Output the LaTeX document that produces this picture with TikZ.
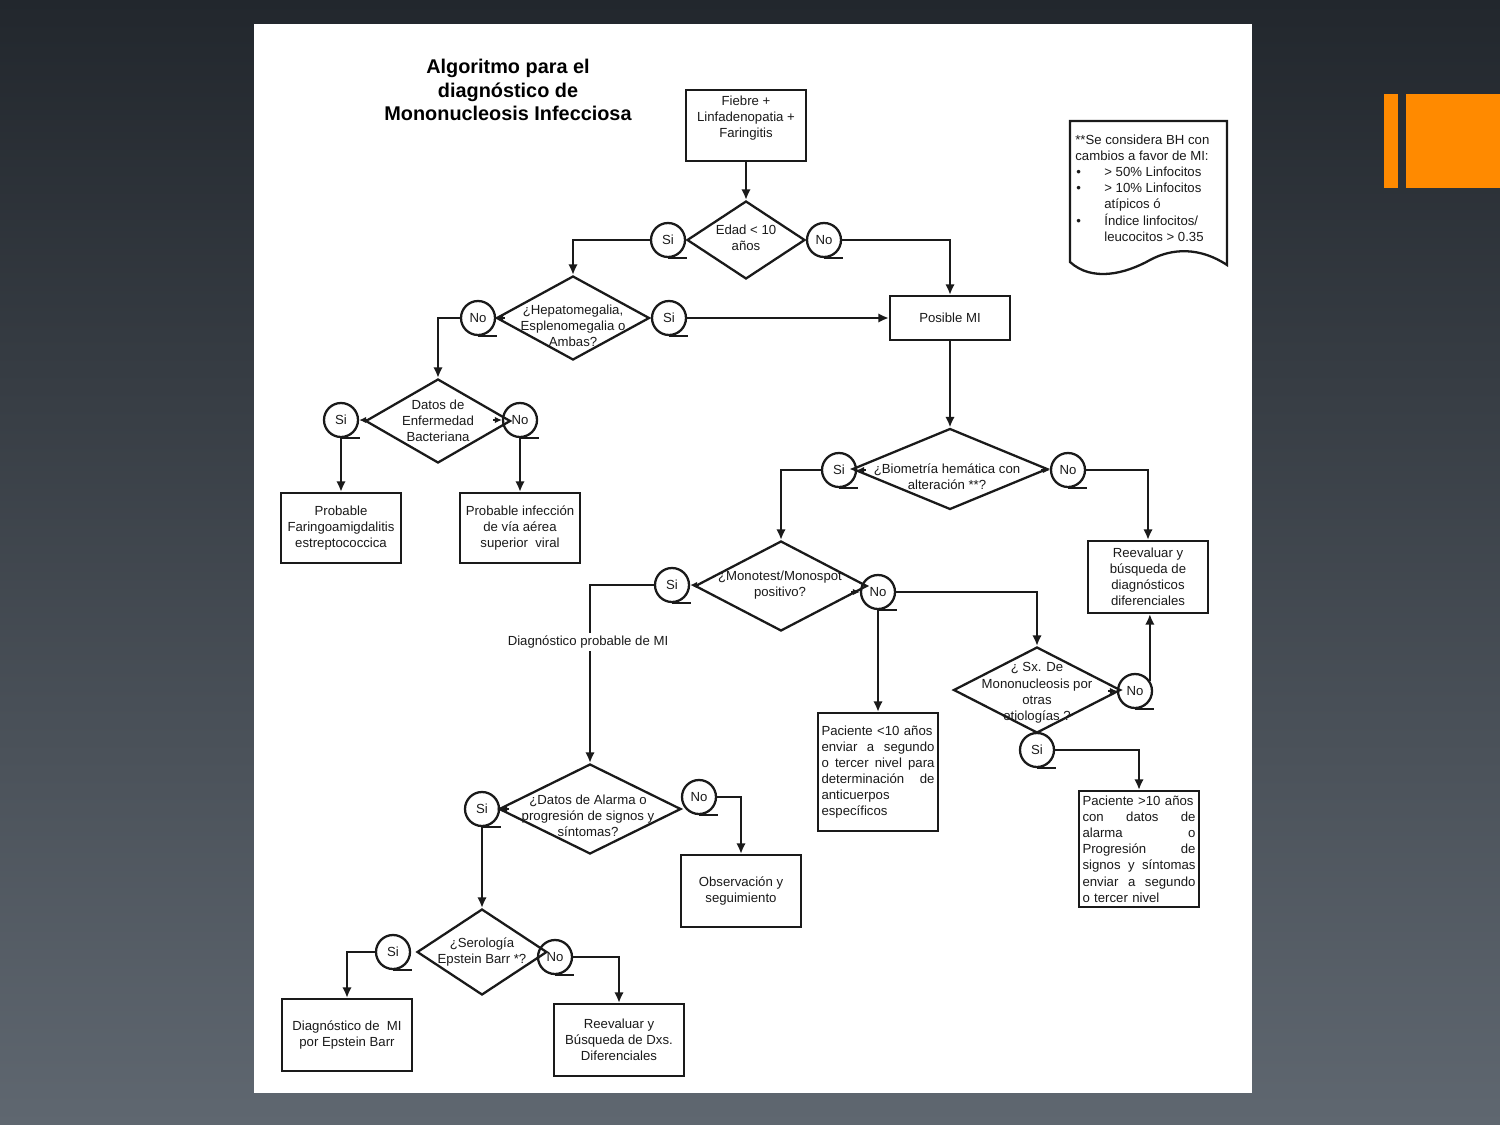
\documentclass[tikz,border=0pt]{standalone}
\usepackage{fontspec}
\setmainfont{Liberation Sans}
\usetikzlibrary{shapes.geometric,arrows.meta,shadows}
\definecolor{bgtop}{HTML}{22272D}
\definecolor{bgmid}{HTML}{30363D}
\definecolor{bgbot}{HTML}{5F6770}
\definecolor{accent}{HTML}{FF8A00}
\definecolor{ink}{HTML}{1A1A1A}
\begin{document}
\begin{tikzpicture}[x=0.02cm,y=-0.02cm,
  every node/.style={font=\fontsize{7.5}{9.2}\selectfont, text=ink},
  ln/.style={line width=1.3pt, draw=ink},
  arr/.style={line width=1.3pt, draw=ink, -{Latex[length=2.1mm,width=1.9mm]}},
  tipa/.style={line width=0.8pt, draw=ink, -{Latex[length=1.4mm,width=1.3mm]}},
  box/.style 2 args={rectangle, draw=ink, line width=1.3pt, fill=white, minimum width=#1, minimum height=#2, inner sep=0pt, align=center, drop shadow={shadow xshift=0.8pt, shadow yshift=-0.8pt, fill=black!40, opacity=1}},
  jbox/.style 2 args={box={#1}{#2}, text width=2.26cm, align=left},
  dia/.style 2 args={diamond, draw=ink, line width=1.3pt, minimum width=#1, minimum height=#2, inner sep=0pt},
  circ/.style={circle, draw=ink, line width=1.3pt, minimum size=0.68cm, inner sep=0pt},
  txt/.style={align=center, inner sep=0pt},
  nt/.style={anchor=base west, inner sep=0pt},
]
\useasboundingbox (0,0) rectangle (1500,1125);
\shade[top color=bgtop, middle color=bgmid, bottom color=bgbot] (0,0) rectangle (1500,1125);
\fill[white] (254,24) rectangle (1252,1093);
\fill[accent] (1384,94) rectangle (1398,188);
\fill[accent] (1406,94) rectangle (1500,188);

% title
\node[font=\bfseries\fontsize{11.3}{13.6}\selectfont, align=center, text=black] (title) at (508,90) {Algoritmo para el\\diagnóstico de\\Mononucleosis Infecciosa};

% note
\path[draw=ink, line width=1.3pt, fill=white] (1070,121) -- (1227,121) -- (1227,265)
  .. controls (1200,247) and (1172,248) .. (1150,260)
  .. controls (1125,274) and (1092,282) .. (1070,262) -- cycle;
\node[nt] (nl1) at (1075,145) {**Se considera BH con};
\node[nt] (nl2) at (1075,161) {cambios a favor de MI:};
\node[nt] (nb1) at (1076,177) {•};
\node[nt] (nl3) at (1104,177) {> 50\% Linfocitos};
\node[nt] (nb2) at (1076,193) {•};
\node[nt] (nl4) at (1104,193) {> 10\% Linfocitos};
\node[nt] (nl5) at (1104,209) {atípicos ó};
\node[nt] (nb3) at (1076,225) {•};
\node[nt] (nl6) at (1104,225) {Índice linfocitos/};
\node[nt] (nl7) at (1104,241) {leucocitos > 0.35};

% nodes
\node[box={2.40cm}{1.42cm}] (fiebre) at (746,125.5) {};
\node[txt] (fiebret) at (746,118) {Fiebre +\\Linfadenopatia +\\Faringitis};

\node[dia={2.36cm}{1.56cm}] (edad) at (746,240) {};
\node[txt] (edadt) at (746,238) {Edad < 10\\años};
\node[circ] (si1) at (668,240) {Si};
\node[circ] (no1) at (824,240) {No};

\node[box={2.40cm}{0.88cm}] (posible) at (950,318) {Posible MI};

\node[dia={3.06cm}{1.68cm}] (hep) at (573,318) {};
\node[txt] (hept) at (573,326) {¿Hepatomegalia,\\Esplenomegalia o\\Ambas?};
\node[circ] (no2) at (478,318) {No};
\node[circ] (si2) at (669,318) {Si};

\node[dia={2.90cm}{1.68cm}] (bact) at (438,421) {};
\node[txt] (bactt) at (438,421) {Datos de\\Enfermedad\\Bacteriana};
\node[circ] (si3) at (341,420) {Si};
\node[circ] (no3) at (520,420) {No};
\node[box={2.40cm}{1.40cm}] (prob1) at (341,528) {Probable\\Faringoamigdalitis\\estreptococcica};
\node[box={2.40cm}{1.40cm}] (prob2) at (520,528) {Probable infección\\de vía aérea\\superior~ viral};

\node[dia={3.90cm}{1.62cm}] (bio) at (950,469) {};
\node[txt] (biot) at (947,477) {¿Biometría hemática con\\alteración **?};
\node[circ] (si4) at (839,470) {Si};
\node[circ] (no4) at (1068,470) {No};
\node[box={2.40cm}{1.44cm}] (reev1) at (1148,577) {Reevaluar y\\búsqueda de\\diagnósticos\\diferenciales};

\node[dia={3.44cm}{1.80cm}] (mono) at (781,586) {};
\node[txt] (monot) at (780,585) {¿Monotest/Monospot\\positivo?};
\node[circ] (si5) at (672,585) {Si};
\node[circ] (no5) at (878,592) {No};
\node[jbox={2.40cm}{2.36cm}] (pac1) at (878,772) {Paciente <10 años\\enviar\hfill a\hfill segundo\\o\hfill tercer\hfill nivel\hfill para\\determinación\hfill de\\anticuerpos\\específicos};

\node[dia={3.34cm}{1.72cm}] (sx) at (1037,690) {};
\node[txt] (sxt) at (1037,693) {¿ Sx. De\\Mononucleosis por\\otras\\etiologías ?};
\node[circ] (no6) at (1135,691) {No};
\node[circ] (si6) at (1037,750) {Si};
\node[jbox={2.40cm}{2.32cm}] (pac2) at (1139,849) {Paciente >10 años\\con\hfill datos\hfill de\\alarma\hfill o\\Progresión\hfill de\\signos\hfill y\hfill síntomas\\enviar\hfill a\hfill segundo\\o tercer nivel};

\node[dia={3.64cm}{1.80cm}] (alarma) at (590,809) {};
\node[txt] (alarmat) at (588,816) {¿Datos de Alarma o\\progresión de signos y\\síntomas?};
\node[circ] (si7) at (482,809) {Si};
\node[circ] (no7) at (699,797) {No};
\node[box={2.40cm}{1.44cm}] (obs) at (741,891) {Observación y\\seguimiento};

\node[dia={2.60cm}{1.72cm}] (sero) at (482,952) {};
\node[txt] (serot) at (482,952) {¿Serología\\Epstein Barr *?};
\node[circ] (si8) at (393,952) {Si};
\node[circ] (no8) at (555,957) {No};
\node[box={2.60cm}{1.44cm}] (dx1) at (347,1035) {Diagnóstico de~ MI\\por Epstein Barr};
\node[box={2.60cm}{1.44cm}] (reev2) at (619,1040) {Reevaluar y\\Búsqueda de Dxs.\\Diferenciales};

% connectors
\draw[arr] (fiebre.south) -- (edad.north);
\draw[arr] (si1.west) -| (hep.north);
\draw[arr] (no1.east) -| (posible.north);
\draw[arr] (si2.east) -- (si2.east -| posible.west);
\draw[arr] (no2.west) -| (bact.north);
\draw[arr] (si3.south) -- (si3.south |- prob1.north);
\draw[arr] (no3.south) -- (no3.south |- prob2.north);
\draw[arr] (posible.south) -- (bio.north);
\draw[arr] (si4.west) -| (mono.north);
\draw[arr] (no4.east) -| (reev1.north);
\draw[arr] (si5.west) -| (alarma.north);
\draw[arr] (no5.east) -| (sx.north);
\draw[arr] (no5.south) -- (no5.south |- pac1.north);
\draw[arr] (no6.35) -- (no6.35 |- reev1.south);
\draw[arr] (si6.east) -| (pac2.north);
\draw[arr] (no7.east) -| (obs.north);
\draw[arr] (si7.south) -- (si7.south |- sero.north);
\draw[arr] (si8.west) -| (dx1.north);
\draw[arr] (no8.east) -| (reev2.north);

\node[fill=white, inner sep=1.5pt] (dxlab) at (588,642) {Diagnóstico probable de MI};

% circle tails
\foreach \c in {si1,no1,si2,no2,si3,no3,si4,no4,si5,no5,si6,no6,si7,no7,si8,no8}
  \draw[ln] (\c.south) -- ++(19,0);
% small tips into circles
\foreach \c in {si3,no2,si4,si5,si7}
  \draw[tipa] ([xshift=5pt]\c.east) -- (\c.east);
\foreach \c in {no3,no4,no5,no6}
  \draw[tipa] ([xshift=-5pt]\c.west) -- (\c.west);
\end{tikzpicture}
\end{document}
